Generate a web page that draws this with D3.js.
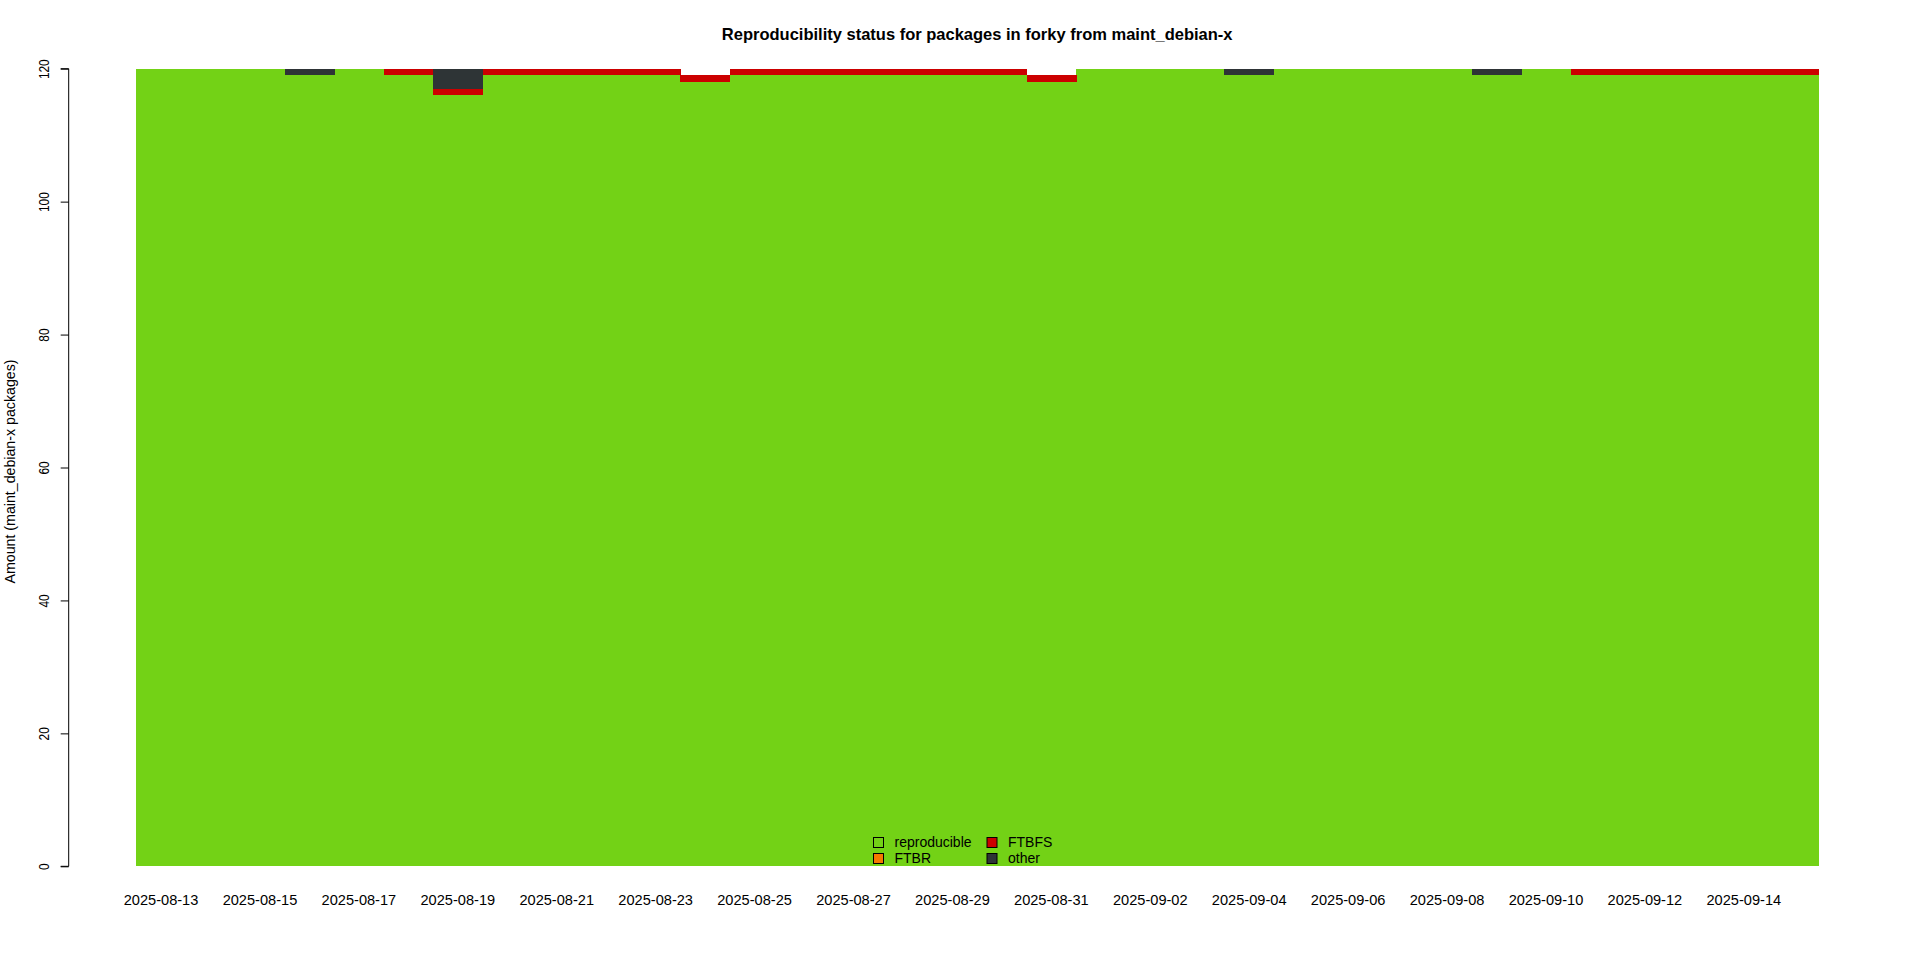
<!DOCTYPE html>
<html>
<head>
<meta charset="utf-8">
<script src="https://cdn.jsdelivr.net/npm/d3@7"></script>
<style>
  html, body { margin: 0; padding: 0; background: #fff; }
  svg { display: block; font-family: "Liberation Sans", Arial, sans-serif; }
</style>
</head>
<body>
<svg id="chart" width="1920" height="960"></svg>
<script>
const dates = [
  "2025-08-13","2025-08-14","2025-08-15","2025-08-16","2025-08-17","2025-08-18",
  "2025-08-19","2025-08-20","2025-08-21","2025-08-22","2025-08-23","2025-08-24",
  "2025-08-25","2025-08-26","2025-08-27","2025-08-28","2025-08-29","2025-08-30",
  "2025-08-31","2025-09-01","2025-09-02","2025-09-03","2025-09-04","2025-09-05",
  "2025-09-06","2025-09-07","2025-09-08","2025-09-09","2025-09-10","2025-09-11",
  "2025-09-12","2025-09-13","2025-09-14","2025-09-15"
];
const reproducible = [120,120,120,119,120,119,116,119,119,119,119,118,119,119,119,119,119,119,118,120,120,120,119,120,120,120,120,119,120,119,119,119,119,119];
const ftbr =         [0,0,0,0,0,0,0,0,0,0,0,0,0,0,0,0,0,0,0,0,0,0,0,0,0,0,0,0,0,0,0,0,0,0];
const ftbfs =        [0,0,0,0,0,1,1,1,1,1,1,1,1,1,1,1,1,1,1,0,0,0,0,0,0,0,0,0,0,1,1,1,1,1];
const other =        [0,0,0,1,0,0,3,0,0,0,0,0,0,0,0,0,0,0,0,0,0,0,1,0,0,0,0,1,0,0,0,0,0,0];
const seriesNames = ["reproducible","FTBR","FTBFS","other"];
const seriesColors = ["#73d216","#f57900","#cc0000","#2e3436"];
const yTicks = [0,20,40,60,80,100,120];
const xTickLabels = dates.filter((d,i) => i % 2 === 0);
const title = "Reproducibility status for packages in forky from maint_debian-x";
const yTitle = "Amount (maint_debian-x packages)";

const svg = d3.select("#chart");
const L = 136.3, R = 1818, T = 68.7, B = 866.3;

const rows = dates.map((d,i) => ({date: d, reproducible: reproducible[i], FTBR: ftbr[i], FTBFS: ftbfs[i], other: other[i]}));
const stack = d3.stack().keys(seriesNames);
const layers = stack(rows);

const x = d3.scaleBand().domain(dates).range([L, R]).padding(0);
const y = d3.scaleLinear().domain([0,120]).range([B, T]);
const color = d3.scaleOrdinal().domain(seriesNames).range(seriesColors);

svg.append("g").selectAll("g").data(layers).join("g")
  .attr("fill", d => color(d.key))
  .selectAll("rect").data(d => d).join("rect")
  .attr("shape-rendering","crispEdges")
  .attr("x", d => x(d.data.date))
  .attr("width", x.bandwidth() + 0.5)
  .attr("y", d => y(d[1]))
  .attr("height", d => y(d[0]) - y(d[1]));

// Title
svg.append("text").attr("x", (L+R)/2).attr("y", 40)
  .attr("text-anchor","middle").attr("font-weight","bold").attr("font-size", 16.5)
  .text(title);

// Y axis
const yAxis = svg.append("g").attr("transform", "translate(68.7,0)")
  .call(d3.axisLeft(y).tickValues(yTicks).tickSize(8).tickFormat(d3.format("d")));
yAxis.select(".domain").attr("stroke","#000").attr("stroke-width",1).attr("d", `M-8,${y(0)}H0V${y(120)}H-8`).attr("fill","none");
yAxis.selectAll(".tick line").attr("stroke","#000");
yAxis.selectAll(".tick text")
  .attr("x", null).attr("dy", null)
  .attr("font-size", 14).attr("fill","#000")
  .attr("text-anchor","middle")
  .attr("transform", "translate(-25,0) rotate(-90)")
  .attr("y", 0).attr("dy", "0.35em")
  .each(function() {
    const w = this.getComputedTextLength();
    d3.select(this).attr("textLength", w * 0.85).attr("lengthAdjust","spacingAndGlyphs");
  });

// Y title
svg.append("text")
  .attr("transform", `translate(15,${(T+B)/2 + 4}) rotate(-90)`)
  .attr("text-anchor","middle").attr("font-size", 14.2)
  .text(yTitle);

// X axis labels
const xAxis = svg.append("g").attr("transform", `translate(0,${B})`)
  .call(d3.axisBottom(x).tickValues(xTickLabels).tickSize(0).tickPadding(0));
xAxis.select(".domain").remove();
xAxis.selectAll(".tick text").attr("font-size", 14.6).attr("fill","#000")
  .attr("y", 34).attr("dy","0.35em");

// Legend
const legendItems = [
  {name: seriesNames[0], col: 0, row: 0},
  {name: seriesNames[1], col: 0, row: 1},
  {name: seriesNames[2], col: 1, row: 0},
  {name: seriesNames[3], col: 1, row: 1}
];
const lg = svg.append("g");
const colX = [878.5, 992], rowY = [842.5, 858.5];
legendItems.forEach(it => {
  const cx = colX[it.col], cy = rowY[it.row];
  lg.append("rect").attr("x", cx-5).attr("y", cy-5).attr("width",10).attr("height",10)
    .attr("fill", color(it.name)).attr("stroke","#000").attr("stroke-width",1);
  lg.append("text").attr("x", cx+16).attr("y", cy).attr("dy","0.35em")
    .attr("font-size",14).text(it.name);
});
</script>
</body>
</html>
